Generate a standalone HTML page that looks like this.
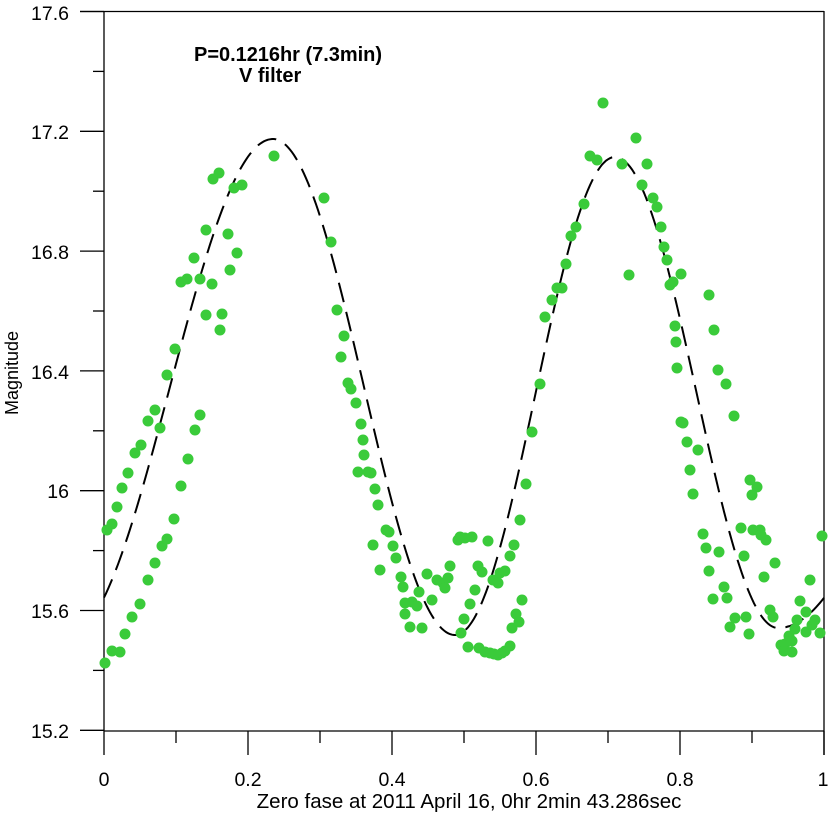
<!DOCTYPE html>
<html><head><style>html,body{margin:0;padding:0;background:#fff;}svg{display:block;}</style></head>
<body>
<svg id="s" width="831" height="813" xmlns="http://www.w3.org/2000/svg" font-family="Liberation Sans, sans-serif">
<g stroke="#000" stroke-width="1.3" fill="none">
<line x1="80" y1="11.5" x2="824" y2="11.5"/>
<line x1="104" y1="11" x2="104" y2="731"/>
<line x1="824" y1="11" x2="824" y2="755"/>
<line x1="104" y1="731" x2="824" y2="731"/>
</g>
<g id="ticks" stroke="#000" stroke-width="1.3"></g>
<g font-size="19.5" fill="#000" text-anchor="end">
<text x="69" y="20">17.6</text>
<text x="69" y="139">17.2</text>
<text x="69" y="259">16.8</text>
<text x="69" y="379">16.4</text>
<text x="69" y="498">16</text>
<text x="69" y="618">15.6</text>
<text x="69" y="738">15.2</text>
</g>
<g font-size="19.5" fill="#000" text-anchor="middle">
<text x="104" y="786">0</text>
<text x="248" y="786">0.2</text>
<text x="392" y="786">0.4</text>
<text x="536" y="786">0.6</text>
<text x="680" y="786">0.8</text>
<text x="823" y="786">1</text>
</g>
<text x="469" y="808" font-size="20.5" text-anchor="middle">Zero fase at 2011 April 16, 0hr 2min 43.286sec</text>
<text transform="translate(18,373) rotate(-90)" font-size="18" text-anchor="middle">Magnitude</text>
<text x="194" y="61" font-size="20" font-weight="bold" textLength="188">P=0.1216hr (7.3min)</text>
<text x="239" y="82" font-size="20" font-weight="bold">V filter</text>
<path id="curve" fill="none" stroke="#000" stroke-width="2" stroke-dasharray="20,10"/>
<g id="dots" fill="#3ACB3A"></g>
</svg>
<script>
var t=document.getElementById('ticks'),h='';
for(var i=0;i<=12;i++){var y=11.5+i*59.9;h+='<line x1="'+(i%2?93:80)+'" y1="'+y+'" x2="104" y2="'+y+'"/>';}
for(var i=0;i<=10;i++){var x=104+i*72;h+='<line x1="'+x+'" y1="731" x2="'+x+'" y2="'+(i%2?743:755)+'"/>';}
t.innerHTML=h;
var ex=[[66,638],[273,139],[455,635],[615,157],[778,628],[1063,150]];
var d='';
for(var x=104;x<=824;x+=2){for(var k=0;k<ex.length-1;k++){if(x>=ex[k][0]&&x<=ex[k+1][0]){var a=ex[k],b=ex[k+1],u=(x-a[0])/(b[0]-a[0]);var y=a[1]+(b[1]-a[1])*(1-Math.cos(Math.PI*u))/2;d+=(d?'L':'M')+x+','+y.toFixed(1);break;}}}
document.getElementById('curve').setAttribute('d',d);
var p=[[107,530],[112,524],[117,507],[122,488],[128,473],[135,453],[141,445],[148,421],[155,410],[160,428],[167,375],[175,349],[181,282],[187,279],[194,258],[200,279],[206,230],[213,179],[219,173],[228,234],[234,188],[237,253],[242,185],
[105,663],[112,651],[120,652],[125,634],[132,617],[140,604],[148,580],[155,563],[162,546],[167,539],[174,519],[181,486],[188,459],[195,430],[200,415],[206,315],[212,284],[220,330],[222,314],[230,270],
[274,156],[324,198],[331,242],[337,310],[344,336],[341,357],[348,383],[351,389],[356,403],[361,424],[363,440],[364,455],[358,472],[368,472],[371,473],[375,489],[378,505],[373,545],[380,570],[386,530],[389,532],[393,546],[396,558],[401,577],[403,587],[405,603],[405,614],[410,627],[412,602],[417,606],[419,592],[422,628],[427,574],[432,600],[437,580],[443,583],[445,588],[448,578],[450,566],[458,540],[461,633],[464,619],[468,647],[470,604],[475,590],[479,648],[485,652],[490,653],[494,654],[498,655],[502,653],[505,651],[510,646],[512,628],[516,614],[519,622],[522,600],[460,537],[465,538],[472,537],[478,566],[482,572],[488,541],[493,580],[498,583],[500,573],[505,571],[510,556],[514,545],[520,520],[526,484],[532,432],[540,384],[545,317],[552,300],[557,288],[562,288],[566,264],[571,236],[576,227],[584,204],[590,156],[597,160],[603,103],[622,164],[629,275],[636,138],[642,185],[647,164],[653,198],[657,207],[661,227],[664,247],[667,260],[670,285],[673,282],[675,326],[676,342],[677,368],[681,274],[681,422],[683,423],[687,442],[690,470],[693,494],[698,450],[703,534],[706,548],[709,571],[713,599],[719,552],[724,587],[727,598],[730,627],[735,618],[741,528],[744,556],[746,617],[749,634],[753,530],[757,487],[760,530],[764,577],[770,610],[773,617],[781,645],[785,644],[789,636],[792,641],[797,620],[806,632],[812,625],[815,620],[820,633],[822,536],[766,540],[775,563],[709,295],[714,330],[718,370],[726,384],[734,416],[750,480],[752,495],[761,535],[784,651],[800,601],[810,580],[806,612],[795,629],[792,652]];
var g='';p.forEach(function(q){g+='<circle cx="'+q[0]+'" cy="'+q[1]+'" r="5.5"/>';});
document.getElementById('dots').innerHTML=g;
</script>
</body></html>
